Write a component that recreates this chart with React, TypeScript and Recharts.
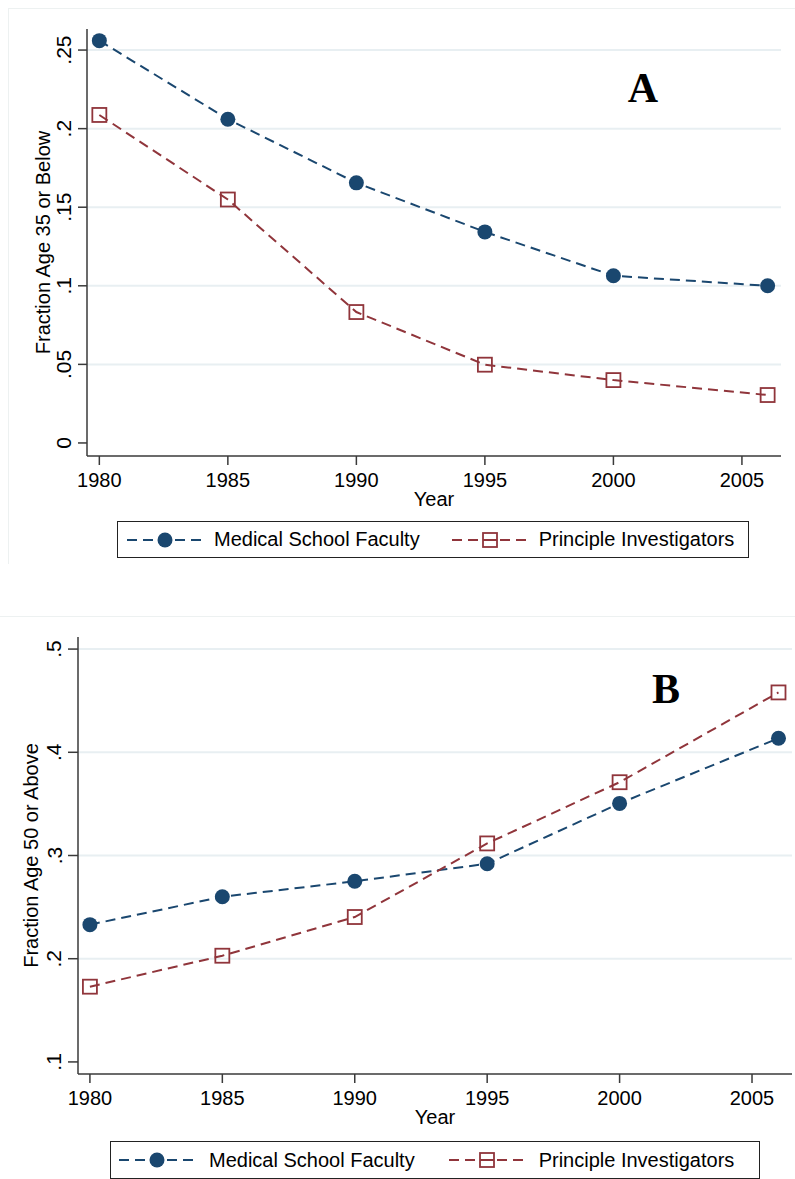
import { CartesianGrid, Line, LineChart, XAxis, YAxis } from "recharts";

const years = [1980, 1985, 1990, 1995, 2000, 2006];
const yearTicks = [1980, 1985, 1990, 1995, 2000, 2005];

// panel A: share aged 35 or below
const facultyYoung = [0.256, 0.206, 0.1655, 0.1343, 0.1064, 0.1];
const piYoung = [0.2087, 0.1549, 0.0833, 0.0498, 0.04, 0.0305];
const ticksA = [0, 0.05, 0.1, 0.15, 0.2, 0.25];

// panel B: share aged 50 or above
const facultyOld = [0.233, 0.26, 0.275, 0.292, 0.3505, 0.4136];
const piOld = [0.1729, 0.2029, 0.2404, 0.3117, 0.371, 0.458];
const ticksB = [0.1, 0.2, 0.3, 0.4, 0.5];

const seriesNames = ["Medical School Faculty", "Principle Investigators"];

const NAVY = "#1a476f";
const MAROON = "#90353b";
const GRID = "#e8eff2";
const AXIS = "#3a3a3a";
const FONT = '"Liberation Sans", Arial, sans-serif';

const dataA = years.map((year, i) => ({ year, faculty: facultyYoung[i], pi: piYoung[i] }));
const dataB = years.map((year, i) => ({ year, faculty: facultyOld[i], pi: piOld[i] }));

const fmt = (v: number) => (v === 0 ? "0" : String(v).replace(/^0\./, "."));

function RotTick(props: any) {
  const { x, y, payload } = props;
  return (
    <text x={x} y={y} transform={`rotate(-90 ${x} ${y})`} textAnchor="middle" fontSize={21} fill="#000" fontFamily={FONT}>
      {fmt(payload.value)}
    </text>
  );
}

function yLabel(text: string, x: number, fallbackMid: number) {
  return (p: any) => {
    const vb = p.viewBox;
    const y = vb ? vb.y + vb.height / 2 : fallbackMid;
    return (
      <text x={x} y={y} transform={`rotate(-90 ${x} ${y})`} textAnchor="middle" fontSize={20} fill="#000" fontFamily={FONT}>
        {text}
      </text>
    );
  };
}

const circleDot = (p: any) => <circle key={`c${p.index}`} cx={p.cx} cy={p.cy} r={7.5} fill={NAVY} />;
const squareDot = (p: any) => (
  <rect key={`s${p.index}`} x={p.cx - 7} y={p.cy - 7} width={14} height={14} fill="none" stroke={MAROON} strokeWidth={1.8} />
);

function Icon({ color, shape }: { color: string; shape: "circle" | "square" }) {
  return (
    <svg width={76} height={20} style={{ display: "block" }}>
      <line x1={0} y1={10} x2={76} y2={10} stroke={color} strokeWidth={2} strokeDasharray="10 6" />
      {shape === "circle" ? (
        <circle cx={38} cy={10} r={7.5} fill={color} />
      ) : (
        <rect x={31} y={3} width={14} height={14} fill="#fff" stroke={color} strokeWidth={1.8} />
      )}
      {shape === "square" && <line x1={31} y1={10} x2={45} y2={10} stroke={color} strokeWidth={2} />}
    </svg>
  );
}

function LegendBox({ left, top, width, height, pad, textGap, itemGap }: any) {
  const items = [
    { name: seriesNames[0], color: NAVY, shape: "circle" as const },
    { name: seriesNames[1], color: MAROON, shape: "square" as const }
  ];
  return (
    <div
      style={{
        position: "absolute",
        left,
        top,
        width,
        height,
        boxSizing: "border-box",
        border: "1.5px solid #222",
        background: "#fff",
        display: "flex",
        alignItems: "center",
        paddingLeft: pad,
        fontFamily: FONT,
        fontSize: 20,
        color: "#000"
      }}
    >
      {items.map((it, i) => (
        <div key={it.name} style={{ display: "flex", alignItems: "center", marginLeft: i ? itemGap : 0 }}>
          <Icon color={it.color} shape={it.shape} />
          <span style={{ marginLeft: textGap, whiteSpace: "nowrap" }}>{it.name}</span>
        </div>
      ))}
    </div>
  );
}

function Panel({ data, ticks, yDomain, xDomain, label, height, margin, yWidth, ySize, labelX }: any) {
  return (
    <LineChart width={795} height={height} data={data} margin={margin}>
      <CartesianGrid vertical={false} horizontalValues={ticks.slice(1)} stroke={GRID} strokeWidth={2} />
      <XAxis
        dataKey="year"
        type="number"
        domain={xDomain}
        allowDataOverflow
        ticks={yearTicks}
        interval={0}
        height={54}
        tickSize={9}
        tickMargin={8}
        stroke={AXIS}
        strokeWidth={1.5}
        tick={{ fill: "#000", fontSize: 20, fontFamily: FONT }}
        label={{ value: "Year", position: "insideBottom", offset: 4, fill: "#000", fontSize: 20, fontFamily: FONT }}
      />
      <YAxis
        type="number"
        domain={yDomain}
        allowDataOverflow
        ticks={ticks}
        interval={0}
        width={yWidth}
        tickSize={ySize}
        tickMargin={6.5}
        stroke={AXIS}
        strokeWidth={1.5}
        tick={<RotTick />}
        label={{ content: yLabel(label, labelX, 240) }}
      />
      <Line
        type="linear"
        dataKey="faculty"
        stroke={NAVY}
        strokeWidth={2}
        strokeDasharray="10 6"
        dot={circleDot}
        activeDot={false}
        isAnimationActive={false}
      />
      <Line
        type="linear"
        dataKey="pi"
        stroke={MAROON}
        strokeWidth={2}
        strokeDasharray="10 6"
        dot={squareDot}
        activeDot={false}
        isAnimationActive={false}
      />
    </LineChart>
  );
}

export default function App() {
  return (
    <div style={{ position: "absolute", left: 0, top: 0, width: 795, height: 1179, background: "#fff", overflow: "hidden", fontFamily: FONT }}>
      <div style={{ position: "absolute", left: 8, top: 8, width: 800, height: 555, borderLeft: "1px solid #edf1f1", borderTop: "1px solid #edf1f1" }} />
      <div style={{ position: "absolute", left: 0, top: 616, width: 800, height: 600, borderTop: "1px solid #edf1f1" }} />

      <div style={{ position: "absolute", left: 0, top: 0 }}>
        <Panel
          data={dataA}
          ticks={ticksA}
          yDomain={[-0.0083, 0.2634]}
          xDomain={[1979.52, 2006.52]}
          label="Fraction Age 35 or Below"
          height={570}
          margin={{ top: 29, right: 14, left: 0, bottom: 60 }}
          yWidth={87}
          ySize={9}
          labelX={50}
        />
      </div>
      <LegendBox left={117} top={521} width={632} height={37} pad={9} textGap={11} itemGap={32} />

      <div style={{ position: "absolute", left: 0, top: 600 }}>
        <Panel
          data={dataB}
          ticks={ticksB}
          yDomain={[0.0883, 0.5117]}
          xDomain={[1979.55, 2006.51]}
          label="Fraction Age 50 or Above"
          height={579}
          margin={{ top: 37, right: 3, left: 0, bottom: 51 }}
          yWidth={78}
          ySize={10}
          labelX={38}
        />
      </div>
      <LegendBox left={110} top={1141} width={650} height={38} pad={8} textGap={14} itemGap={34} />

      <svg width={795} height={1179} style={{ position: "absolute", left: 0, top: 0, pointerEvents: "none" }}>
        <text x={643} y={102} textAnchor="middle" fontFamily='"Liberation Serif", "Times New Roman", serif' fontWeight="bold" fontSize={42}>
          A
        </text>
        <text x={666} y={703} textAnchor="middle" fontFamily='"Liberation Serif", "Times New Roman", serif' fontWeight="bold" fontSize={42}>
          B
        </text>
      </svg>
    </div>
  );
}
